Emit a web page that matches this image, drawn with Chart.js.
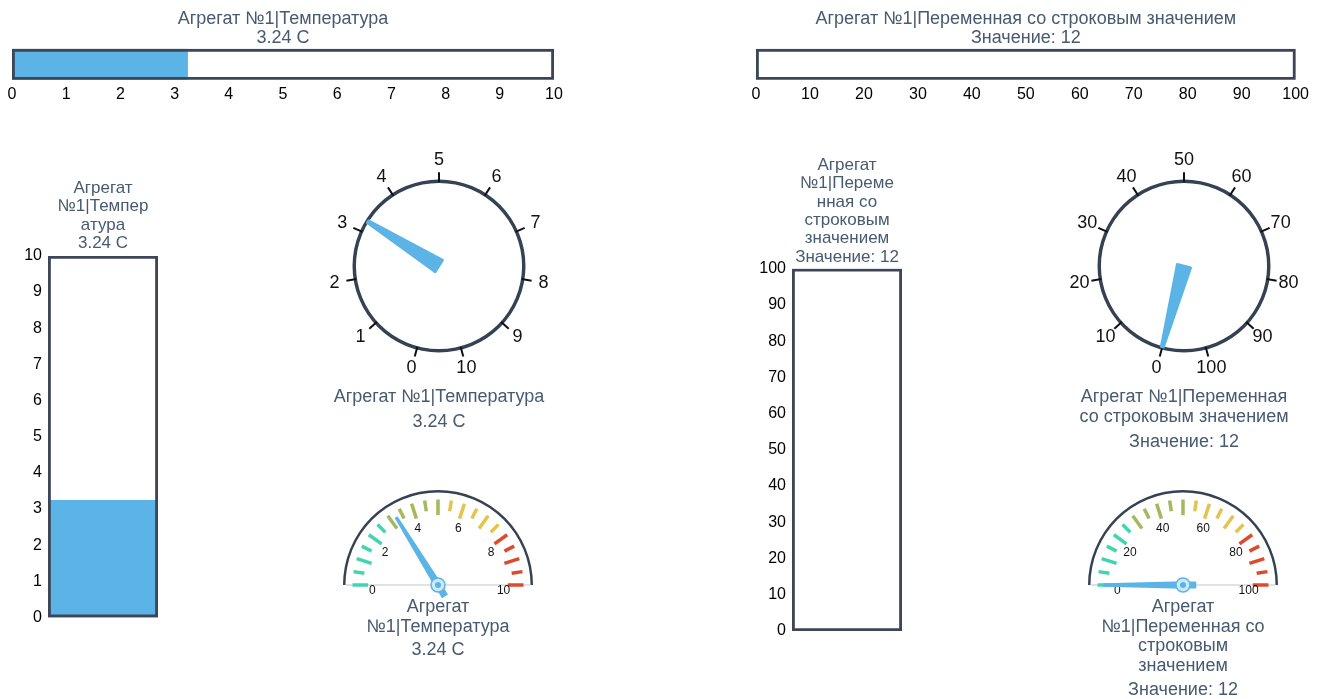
<!DOCTYPE html>
<html>
<head>
<meta charset="utf-8">
<script src="https://cdn.jsdelivr.net/npm/chart.js@4.4.0/dist/chart.umd.min.js"></script>
<style>
body { margin: 0; background: #fff; width: 1332px; height: 699px; overflow: hidden; position: relative; }
canvas { position: absolute; }
</style>
</head>
<body>
<canvas id="hbarTemp" width="570" height="110" style="left:0px;top:0px"></canvas>
<canvas id="hbarStr" width="570" height="110" style="left:744px;top:0px"></canvas>
<canvas id="vbarTemp" width="180" height="463" style="left:0px;top:170px"></canvas>
<canvas id="vbarStr" width="180" height="510" style="left:744px;top:140px"></canvas>
<canvas id="dialTemp" width="254" height="300" style="left:312px;top:140px"></canvas>
<canvas id="dialStr" width="254" height="320" style="left:1057px;top:140px"></canvas>
<canvas id="semiTemp" width="240" height="201" style="left:318px;top:470px"></canvas>
<canvas id="semiStr" width="240" height="234" style="left:1063px;top:470px"></canvas>
<script>
// temperature variable
const tempTitle = 'Агрегат №1|Температура'
const tempText = '3.24 C'
const tempValue = 3.24
const tempMin = 0
const tempMax = 10
const tempTicks = [0, 1, 2, 3, 4, 5, 6, 7, 8, 9, 10]
const tempSemiTicks = [0, 2, 4, 6, 8, 10]
const tempVbarLines = ['Агрегат', '№1|Темпер', 'атура', '3.24 C']
const tempSemiLines = ['Агрегат', '№1|Температура']

// string variable: nothing to fill, needles rest on zero
const strTitle = 'Агрегат №1|Переменная со строковым значением'
const strText = 'Значение: 12'
const strValue = 0
const strMin = 0
const strMax = 100
const strTicks = [0, 10, 20, 30, 40, 50, 60, 70, 80, 90, 100]
const strSemiTicks = [0, 20, 40, 60, 80, 100]
const strVbarLines = ['Агрегат', '№1|Переме', 'нная со', 'строковым', 'значением', 'Значение: 12']
const strDialLines = ['Агрегат №1|Переменная', 'со строковым значением']
const strSemiLines = ['Агрегат', '№1|Переменная со', 'строковым', 'значением']

const titleColor = '#475a70'
const frameColor = '#3c4657'
const fillColor = '#5cb4e6'
const ringColor = '#354253'
const zoneColors = ['#3fd6ae', '#a3b95b', '#e4c44f', '#de4a2d']
const textSize = 18
const lineH = 1.1

Chart.defaults.font.family = '"Liberation Sans", Arial, sans-serif'
Chart.defaults.animation = false
Chart.defaults.responsive = false
Chart.defaults.events = []
Chart.defaults.plugins.legend.display = false
Chart.defaults.plugins.tooltip.enabled = false

function barDatasets(value, max){
    return [{
        data: [max],
        backgroundColor: 'rgba(0,0,0,0)',
        borderColor: frameColor,
        borderWidth: 2.5,
        borderSkipped: false,
        grouped: false,
        barPercentage: 1,
        categoryPercentage: 1
    }, {
        data: [value],
        backgroundColor: fillColor,
        borderWidth: 0,
        grouped: false,
        barPercentage: 1,
        categoryPercentage: 1
    }]
}

function hbar(id, value, min, max, ticks, title, text){
    new Chart(document.getElementById(id), {
        type: 'bar',
        data: { labels: [''], datasets: barDatasets(value, max) },
        options: {
            indexAxis: 'y',
            layout: { padding: { left: 12, right: 16, bottom: 1 } },
            plugins: {
                title: {
                    display: true, text: [title, text], color: titleColor, fullSize: false,
                    font: { size: textSize, weight: 'normal', lineHeight: 1.05 },
                    padding: { top: 10, bottom: 1 }
                }
            },
            scales: {
                x: {
                    min: min, max: max,
                    afterBuildTicks: s => { s.ticks = ticks.map(v => ({ value: v })) },
                    ticks: { color: '#000', font: { size: 16 }, padding: 5 },
                    grid: { display: false, drawTicks: false },
                    border: { display: false }
                },
                y: { display: false }
            }
        }
    })
}

function vbar(id, value, min, max, ticks, lines, padTop, titleGap, padBottom){
    new Chart(document.getElementById(id), {
        type: 'bar',
        data: { labels: [''], datasets: barDatasets(value, max) },
        options: {
            layout: { padding: { left: 0, right: 22, bottom: padBottom, top: padTop } },
            plugins: {
                title: {
                    display: true, text: lines, color: titleColor, fullSize: false,
                    font: { size: 17, weight: 'normal', lineHeight: 1.08 },
                    padding: { top: 0, bottom: titleGap }
                }
            },
            scales: {
                x: { display: false },
                y: {
                    min: min, max: max,
                    afterBuildTicks: s => { s.ticks = ticks.map(v => ({ value: v })) },
                    afterFit: s => { s.width = 48 },
                    ticks: { color: '#000', font: { size: 16 }, padding: 6 },
                    grid: { display: false, drawTicks: false },
                    border: { display: false }
                }
            }
        }
    })
}

const dialPlugin = {
    id: 'dial',
    afterDatasetsDraw(chart, args, opts){
        const ring = chart.getDatasetMeta(0).data[0]
        const arcs = chart.getDatasetMeta(1).data
        const cx = ring.x, cy = ring.y
        const R = (ring.outerRadius + ring.innerRadius) / 2
        const start = arcs[0].startAngle, end = arcs[1].endAngle
        const ang = v => start + (v - opts.min) / (opts.max - opts.min) * (end - start)
        const ctx = chart.ctx
        ctx.save()
        ctx.strokeStyle = '#111'
        ctx.lineWidth = 2
        ctx.fillStyle = '#111'
        ctx.font = '18px "Liberation Sans", Arial, sans-serif'
        ctx.textAlign = 'center'
        ctx.textBaseline = 'middle'
        opts.labels.forEach(v => {
            const t = ang(v)
            ctx.beginPath()
            ctx.moveTo(cx + Math.cos(t) * (R - 1), cy + Math.sin(t) * (R - 1))
            ctx.lineTo(cx + Math.cos(t) * (R + 9), cy + Math.sin(t) * (R + 9))
            ctx.stroke()
            ctx.fillText(String(v), cx + Math.cos(t) * (R + 21), cy + Math.sin(t) * (R + 21))
        })
        // wedge needle
        const t = arcs[0].endAngle
        const px = -Math.sin(t), py = Math.cos(t)
        const tipX = cx + Math.cos(t) * (R - 1), tipY = cy + Math.sin(t) * (R - 1)
        ctx.fillStyle = fillColor
        ctx.strokeStyle = fillColor
        ctx.lineJoin = 'round'
        ctx.lineWidth = 2.5
        ctx.beginPath()
        ctx.moveTo(cx + px * 7, cy + py * 7)
        ctx.lineTo(tipX + px * 1.2, tipY + py * 1.2)
        ctx.lineTo(tipX - px * 1.2, tipY - py * 1.2)
        ctx.lineTo(cx - px * 7, cy - py * 7)
        ctx.closePath()
        ctx.fill()
        ctx.stroke()
        ctx.restore()
    }
}

function dial(id, value, min, max, labels, titleLines, text){
    const canvas = document.getElementById(id)
    const lh = textSize * lineH
    const padTop = 39.5
    const bottom = canvas.height - padTop - 173 - (35 + titleLines.length * lh) - (5 + lh)
    new Chart(canvas, {
        type: 'doughnut',
        data: {
            datasets: [{
                data: [1], backgroundColor: [ringColor], borderWidth: 0
            }, {
                data: [value - min, max - value],
                backgroundColor: ['rgba(0,0,0,0)', 'rgba(0,0,0,0)'],
                borderWidth: 0, weight: 0,
                rotation: -165, circumference: 330
            }]
        },
        options: {
            cutout: '96%',
            layout: { padding: { left: 10, right: 10, top: padTop, bottom: bottom } },
            plugins: {
                dial: { min: min, max: max, labels: labels },
                title: {
                    display: true, position: 'bottom', text: titleLines, color: titleColor, fullSize: false,
                    font: { size: textSize, weight: 'normal', lineHeight: lineH },
                    padding: { top: 35, bottom: 0 }
                },
                subtitle: {
                    display: true, position: 'bottom', text: text, color: titleColor, fullSize: false, weight: 3000,
                    font: { size: textSize, weight: 'normal', lineHeight: lineH },
                    padding: { top: 5, bottom: 0 }
                }
            }
        },
        plugins: [dialPlugin]
    })
}

const semiPlugin = {
    id: 'semi',
    afterDatasetsDraw(chart, args, opts){
        const ring = chart.getDatasetMeta(0).data[0]
        const arcs = chart.getDatasetMeta(1).data
        const cx = ring.x, cy = ring.y, R = ring.outerRadius
        const start = arcs[0].startAngle, end = arcs[1].endAngle
        const ang = v => start + (v - opts.min) / (opts.max - opts.min) * (end - start)
        const ctx = chart.ctx
        ctx.save()
        // base line
        ctx.strokeStyle = '#d6dade'
        ctx.lineWidth = 1.5
        ctx.beginPath()
        ctx.moveTo(cx - R + 3, cy)
        ctx.lineTo(cx + R - 3, cy)
        ctx.stroke()
        // coloured ticks, 20 steps
        ctx.lineWidth = 3.5
        for (let i = 0; i <= 20; i++) {
            const v = opts.min + i * (opts.max - opts.min) / 20
            const t = ang(v)
            const r1 = i % 2 === 0 ? R * 0.735 : R * 0.785
            const r2 = R * 0.9
            ctx.strokeStyle = zoneColors[i <= 5 ? 0 : i <= 10 ? 1 : i <= 15 ? 2 : 3]
            ctx.beginPath()
            ctx.moveTo(cx + Math.cos(t) * r1, cy + Math.sin(t) * r1)
            ctx.lineTo(cx + Math.cos(t) * r2, cy + Math.sin(t) * r2)
            ctx.stroke()
        }
        // labels
        ctx.fillStyle = '#111'
        ctx.font = '12px "Liberation Sans", Arial, sans-serif'
        ctx.textAlign = 'center'
        ctx.textBaseline = 'middle'
        opts.labels.forEach(v => {
            const t = ang(v)
            ctx.fillText(String(v), cx + Math.cos(t) * R * 0.69, cy + Math.sin(t) * R * 0.69 + 6)
        })
        // needle
        const t = arcs[0].endAngle
        const dx = Math.cos(t), dy = Math.sin(t)
        const px = -dy, py = dx
        const tip = R * 0.84, tail = R * 0.14
        ctx.fillStyle = fillColor
        ctx.beginPath()
        ctx.moveTo(cx + px * 3.8, cy + py * 3.8)
        ctx.lineTo(cx + dx * tip + px * 1.7, cy + dy * tip + py * 1.7)
        ctx.lineTo(cx + dx * tip - px * 1.7, cy + dy * tip - py * 1.7)
        ctx.lineTo(cx - px * 3.8, cy - py * 3.8)
        ctx.closePath()
        ctx.fill()
        ctx.beginPath()
        ctx.moveTo(cx + px * 3.5, cy + py * 3.5)
        ctx.lineTo(cx - dx * tail + px * 3.5, cy - dy * tail + py * 3.5)
        ctx.lineTo(cx - dx * tail - px * 3.5, cy - dy * tail - py * 3.5)
        ctx.lineTo(cx - px * 3.5, cy - py * 3.5)
        ctx.closePath()
        ctx.fill()
        // hub
        ctx.beginPath()
        ctx.arc(cx, cy, 7, 0, Math.PI * 2)
        ctx.fillStyle = '#cfe8f7'
        ctx.fill()
        ctx.lineWidth = 1.5
        ctx.strokeStyle = fillColor
        ctx.stroke()
        ctx.beginPath()
        ctx.arc(cx, cy, 3, 0, Math.PI * 2)
        ctx.fillStyle = fillColor
        ctx.fill()
        ctx.restore()
    }
}

function semi(id, value, min, max, labels, titleLines, text){
    const canvas = document.getElementById(id)
    const lh = textSize * lineH
    const bottom = canvas.height - 20 - 95 - (12 + titleLines.length * lh) - (4 + lh)
    new Chart(canvas, {
        type: 'doughnut',
        data: {
            datasets: [{
                data: [1], backgroundColor: [ringColor], borderWidth: 0
            }, {
                data: [value - min, max - value],
                backgroundColor: ['rgba(0,0,0,0)', 'rgba(0,0,0,0)'],
                borderWidth: 0, weight: 0
            }]
        },
        options: {
            rotation: -90,
            circumference: 180,
            cutout: '97.4%',
            layout: { padding: { left: 25, right: 25, top: 20, bottom: bottom } },
            plugins: {
                semi: { min: min, max: max, labels: labels },
                title: {
                    display: true, position: 'bottom', text: titleLines, color: titleColor, fullSize: false,
                    font: { size: textSize, weight: 'normal', lineHeight: lineH },
                    padding: { top: 12, bottom: 0 }
                },
                subtitle: {
                    display: true, position: 'bottom', text: text, color: titleColor, fullSize: false, weight: 3000,
                    font: { size: textSize, weight: 'normal', lineHeight: lineH },
                    padding: { top: 4, bottom: 0 }
                }
            }
        },
        plugins: [semiPlugin]
    })
}

hbar('hbarTemp', tempValue, tempMin, tempMax, tempTicks, tempTitle, tempText)
hbar('hbarStr', strValue, strMin, strMax, strTicks, strTitle, strText)
vbar('vbarTemp', tempValue, tempMin, tempMax, tempTicks, tempVbarLines, 9, 3.5, 11)
vbar('vbarStr', strValue, strMin, strMax, strTicks, strVbarLines, 16, 2.5, 19)
dial('dialTemp', tempValue, tempMin, tempMax, tempTicks, [tempTitle], tempText)
dial('dialStr', strValue, strMin, strMax, strTicks, strDialLines, strText)
semi('semiTemp', tempValue, tempMin, tempMax, tempSemiTicks, tempSemiLines, tempText)
semi('semiStr', strValue, strMin, strMax, strSemiTicks, strSemiLines, strText)
</script>
</body>
</html>
